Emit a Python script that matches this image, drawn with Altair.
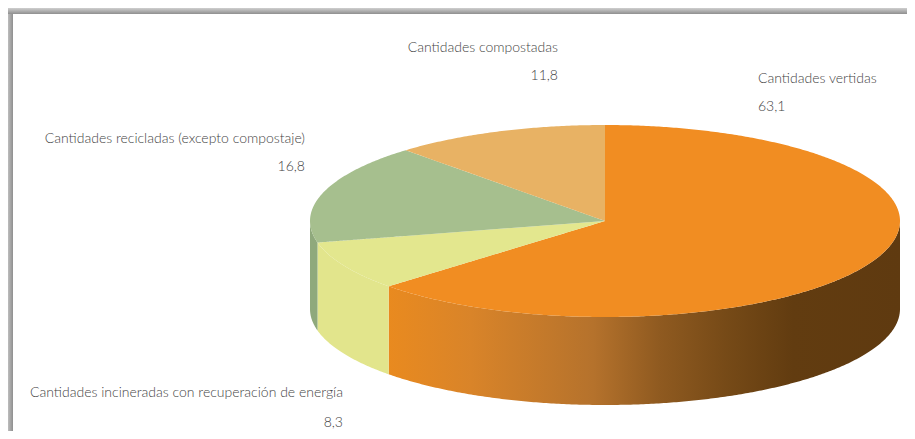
import numpy as np
import pandas as pd
import altair as alt

# Chart values
slices = ["Cantidades vertidas", "Cantidades incineradas con recuperación de energía",
          "Cantidades recicladas (excepto compostaje)", "Cantidades compostadas"]
values = [63.1, 8.3, 16.8, 11.8]
value_labels = ["63,1", "8,3", "16,8", "11,8"]

# Styles
top_colors = ["#f18d22", "#e3e78e", "#a6bf8e", "#e8b264"]
wall_colors = {"Cantidades incineradas con recuperación de energía": "#e2e58c",
               "Cantidades recicladas (excepto compostaje)": "#8fa97c"}
FONT = "Lato"
TEXT = "#444444"

# Layout (image pixels)
CX, CY, RX, RY, DEPTH = 605, 221, 295, 96, 88
W, H = 899, 423
OFF = 8
xscale = alt.Scale(domain=[OFF, OFF + W], range=[0, W], nice=False, zero=False)
yscale = alt.Scale(domain=[OFF, OFF + H], range=[0, H], nice=False, zero=False)

def px(deg):
    r = np.radians(deg)
    return CX + RX * np.sin(r), CY - RY * np.cos(r)

cum = np.concatenate([[0], np.cumsum(values)]) / sum(values) * 360

# top faces: vertical slices through each sector polygon
top_rows = []
for i, name in enumerate(slices):
    a = np.arange(cum[i], cum[i + 1], 0.5)
    a = np.append(a, cum[i + 1])
    ax, ay = px(a)
    poly = np.column_stack([np.append(ax, CX), np.append(ay, CY)])
    corners = [poly[0, 0], poly[-2, 0], CX]
    xs = np.unique(np.concatenate([poly[:, 0]] + [[c - 0.01, c + 0.01] for c in corners]))
    xs = xs[(xs >= poly[:, 0].min()) & (xs <= poly[:, 0].max())]
    n = len(poly)
    for x in xs:
        hits = []
        for k in range(n):
            x0, y0 = poly[k]
            x1, y1 = poly[(k + 1) % n]
            lo, hi = min(x0, x1), max(x0, x1)
            if lo <= x <= hi:
                if x1 == x0:
                    hits += [y0, y1]
                else:
                    hits.append(y0 + (y1 - y0) * (x - x0) / (x1 - x0))
        if hits:
            top_rows.append(dict(slice=name, x=x, y=min(hits), y2=max(hits)))
top_df = pd.DataFrame(top_rows)

# front walls: the part of each sector between 90 and 270 degrees
wall_rows = []
for i, name in enumerate(slices):
    start, end = max(cum[i], 90), min(cum[i + 1], 270)
    if end <= start:
        continue
    a = np.append(np.arange(start, end, 0.5), end)
    ax, ay = px(a)
    for x, y in zip(ax, ay):
        wall_rows.append(dict(slice=name, x=x, y=y, y2=y + DEPTH))
wall_df = pd.DataFrame(wall_rows)

X = alt.X("x:Q", scale=xscale, axis=None)
Y = alt.Y("y:Q", scale=yscale, axis=None)

orange_wall = alt.Chart(wall_df[wall_df.slice == slices[0]]).mark_area(
    color=alt.Gradient(gradient="linear", x1=0, x2=1, y1=0, y2=0, stops=[
        alt.GradientStop(offset=0, color="#e98a1f"),
        alt.GradientStop(offset=0.16, color="#d98429"),
        alt.GradientStop(offset=0.40, color="#b5722c"),
        alt.GradientStop(offset=0.53, color="#8f5a20"),
        alt.GradientStop(offset=0.66, color="#764a17"),
        alt.GradientStop(offset=0.79, color="#623c10"),
        alt.GradientStop(offset=1, color="#5f3a10"),
    ])
).encode(x=X, y=Y, y2="y2:Q")

other_wall = alt.Chart(wall_df[wall_df.slice != slices[0]]).mark_area().encode(
    x=X, y=Y, y2="y2:Q",
    color=alt.Color("slice:N", legend=None,
                    scale=alt.Scale(domain=list(wall_colors), range=list(wall_colors.values()))),
)

tops = alt.Chart(top_df).mark_area().encode(
    x=X, y=Y, y2="y2:Q",
    color=alt.Color("slice:N", legend=None, scale=alt.Scale(domain=slices, range=top_colors)),
)

# labels: (slice index, anchor x, title baseline, value baseline, alignment)
label_layout = [(3, 558, 52, 80, "right"), (0, 758, 83, 111, "left"),
                (2, 305, 143, 171, "right"), (1, 343, 397, 427, "right")]
label_rows = []
for idx, ax_, yt, yv, al in label_layout:
    label_rows.append(dict(t=slices[idx], x=ax_, y=yt, al=al))
    label_rows.append(dict(t=value_labels[idx], x=ax_, y=yv, al=al))
label_df = pd.DataFrame(label_rows)

def text_layer(al):
    return alt.Chart(label_df[label_df.al == al]).mark_text(
        font=FONT, fontSize=14, fontWeight=300, color=TEXT, align=al, baseline="alphabetic"
    ).encode(x=X, y=Y, text="t:N")

one = pd.DataFrame({"a": [0]})
frame_top = alt.Chart(one).mark_rect(
    color=alt.Gradient(gradient="linear", x1=0, x2=0, y1=0, y2=1, stops=[
        alt.GradientStop(offset=0, color="#cfcfcf"),
        alt.GradientStop(offset=1, color="#8f8f8f"),
    ])
).encode(x=alt.value(0), x2=alt.value(W), y=alt.value(0), y2=alt.value(6))
frame_left = alt.Chart(one).mark_rect(
    color=alt.Gradient(gradient="linear", x1=0, x2=1, y1=0, y2=0, stops=[
        alt.GradientStop(offset=0, color="#bdbdbd"),
        alt.GradientStop(offset=1, color="#8f8f8f"),
    ])
).encode(x=alt.value(0), x2=alt.value(5), y=alt.value(0), y2=alt.value(H))

chart = alt.layer(
    frame_left, frame_top, orange_wall, other_wall, tops, text_layer("left"), text_layer("right")
).resolve_scale(color="independent").properties(
    width=W, height=H, padding=0, autosize=alt.AutoSizeParams(type="none"),
    background="#ffffff",
).configure_view(stroke=None)

chart.save("out.html", embed_options={"renderer": "svg", "actions": False})
